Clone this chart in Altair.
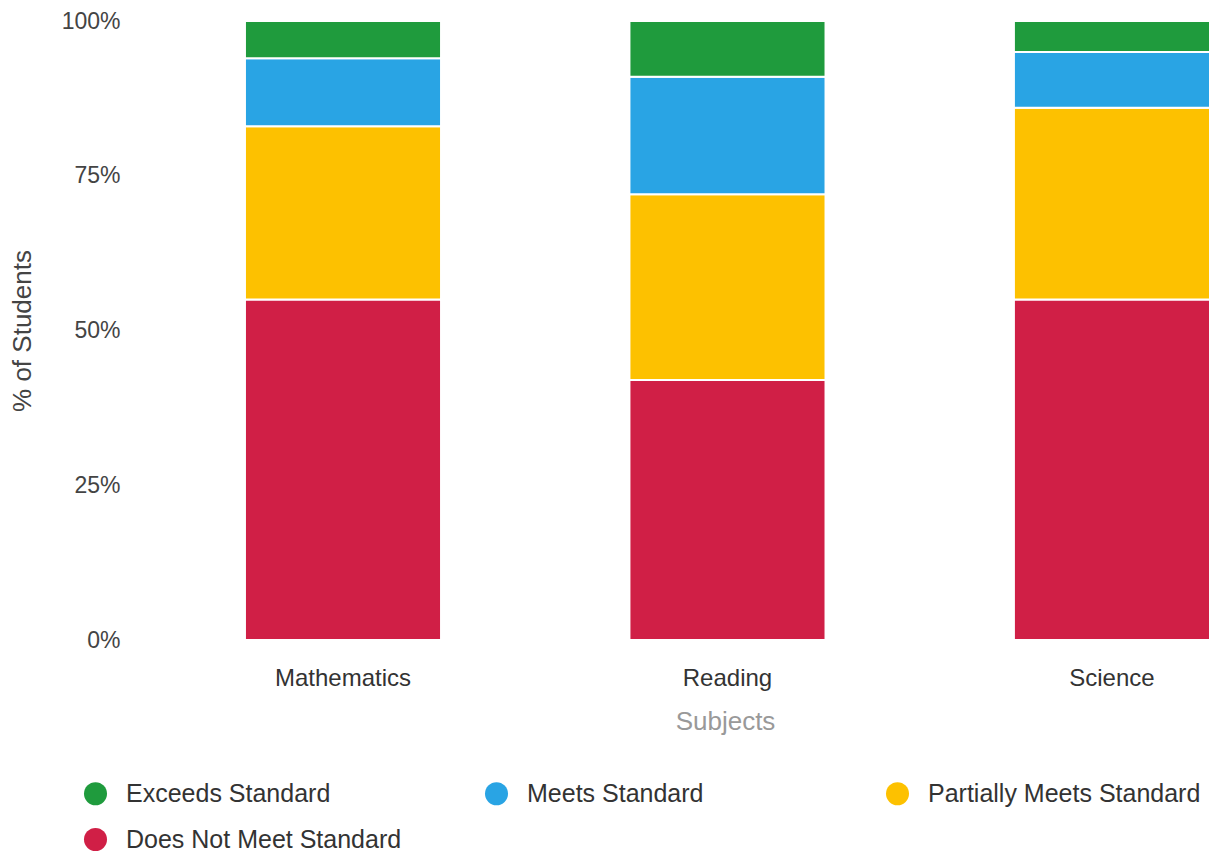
import altair as alt
import pandas as pd

subjects = ["Mathematics", "Reading", "Science"]
levels = ["Exceeds Standard", "Meets Standard", "Partially Meets Standard", "Does Not Meet Standard"]
colors = ["#1f9b3d", "#29a4e4", "#fdc100", "#d01f46"]
exceeds = [6, 9, 5]
meets = [11, 19, 9]
partially = [28, 30, 31]
does_not = [55, 42, 55]
y_ticks = [0, 25, 50, 75, 100]

series = [(levels[3], does_not), (levels[2], partially), (levels[1], meets), (levels[0], exceeds)]
rows = []
for i, s in enumerate(subjects):
    for rank, (lvl, vals) in enumerate(series):
        rows.append({"subject": s, "level": lvl, "pct": vals[i], "stack": rank})
df = pd.DataFrame(rows)

chart = alt.Chart(df).mark_bar(stroke="white", strokeWidth=2).encode(
    x=alt.X(
        "subject:N", sort=subjects, title="Subjects",
        scale=alt.Scale(paddingInner=0.49, paddingOuter=0.143, align=1),
        axis=alt.Axis(labelAngle=0, ticks=False, domain=False, labelFontSize=24,
                      labelColor="#333333", labelPadding=26, titleFontSize=26,
                      titleColor="#999999", titlePadding=18, titleFontWeight="normal",
                      titleX=590, titleAlign="center"),
    ),
    y=alt.Y(
        "pct:Q", stack="zero", title="% of Students",
        scale=alt.Scale(domain=[0, 100], nice=False),
        axis=alt.Axis(values=y_ticks, labelExpr="datum.value + '%'", grid=False, ticks=False,
                      domain=False, labelFontSize=23, labelColor="#444444", labelPadding=15,
                      titleFontSize=26, titleColor="#444444", titlePadding=26,
                      titleFontWeight="normal"),
    ),
    color=alt.Color(
        "level:N", scale=alt.Scale(domain=levels, range=colors),
        legend=alt.Legend(title=None, orient="none", legendX=-52, legendY=760, columns=3,
                          gridAlign="all", columnPadding=82, rowPadding=20, symbolType="circle",
                          symbolSize=530, symbolStrokeWidth=0, symbolOpacity=1,
                          labelFontSize=25, labelColor="#333333", labelOffset=18,
                          labelLimit=500, padding=0, direction="horizontal"),
    ),
    order=alt.Order("stack:Q", sort="ascending"),
).properties(
    width=1075, height=619,
    autosize=alt.AutoSizeParams(type="none"),
    padding={"left": 127, "top": 13, "right": 0, "bottom": 214},
).configure(font="Liberation Sans", background="white").configure_view(strokeWidth=0)

chart.save("out.html", embed_options={"renderer": "svg", "actions": False})
